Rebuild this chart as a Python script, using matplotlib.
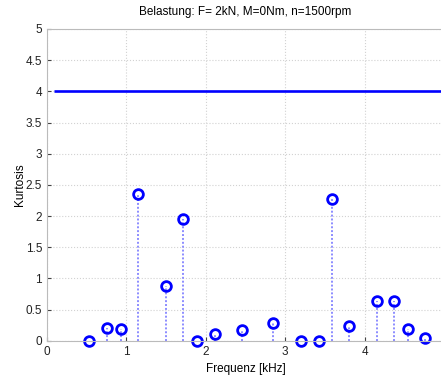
import matplotlib.pyplot as plt
import numpy as np

# Kurtosis je Frequenzband
freq = [0.53, 0.755, 0.935, 1.145, 1.50, 1.71, 1.895, 2.11, 2.46, 2.85,
        3.20, 3.42, 3.585, 3.80, 4.15, 4.365, 4.55, 4.755]
kurt = [0.0, 0.21, 0.19, 2.36, 0.87, 1.95, 0.0, 0.10, 0.17, 0.28,
        0.0, 0.0, 2.27, 0.24, 0.64, 0.64, 0.18, 0.05]
grenze = 4.0
grenze_x = [0.09, 5.0]

plt.rcParams['font.family'] = ['Liberation Sans', 'DejaVu Sans']

fig = plt.figure(figsize=(4.41, 3.78), dpi=100)
ax = fig.add_axes([47/441, 37.3/378, 397/441, 311.7/378])

ax.plot(grenze_x, [grenze, grenze], color='#0000ff', lw=1.9, solid_capstyle='butt')
ax.vlines(freq, 0, kurt, colors='#8c8cff', linestyles=(0, (1, 1)), lw=1.4)
ax.plot(freq, kurt, 'o', mfc='none', mec='#0000ff', mew=2, ms=7, clip_on=False)

ax.set_xlim(0, 5)
ax.set_ylim(0, 5)
ax.set_xticks(np.arange(0, 5, 1))
ax.set_yticks(np.arange(0, 5.01, 0.5))
ax.set_yticklabels(['0', '0.5', '1', '1.5', '2', '2.5', '3', '3.5', '4', '4.5', '5'])
ax.grid(True, color='#d2d2d2', linestyle=':', lw=0.8)
ax.set_axisbelow(True)
ax.tick_params(direction='in', length=3, labelsize=8.5, colors='#444444', labelcolor='#222222')
for s in ax.spines.values():
    s.set_color('#bbbbbb')

ax.set_xlabel('Frequenz [kHz]', fontsize=8.5, labelpad=4)
ax.set_ylabel('Kurtosis', fontsize=8.5, labelpad=0)
ax.set_title('Belastung: F= 2kN, M=0Nm, n=1500rpm', fontsize=8.5, pad=10)

fig.savefig('out.png', dpi=100)
